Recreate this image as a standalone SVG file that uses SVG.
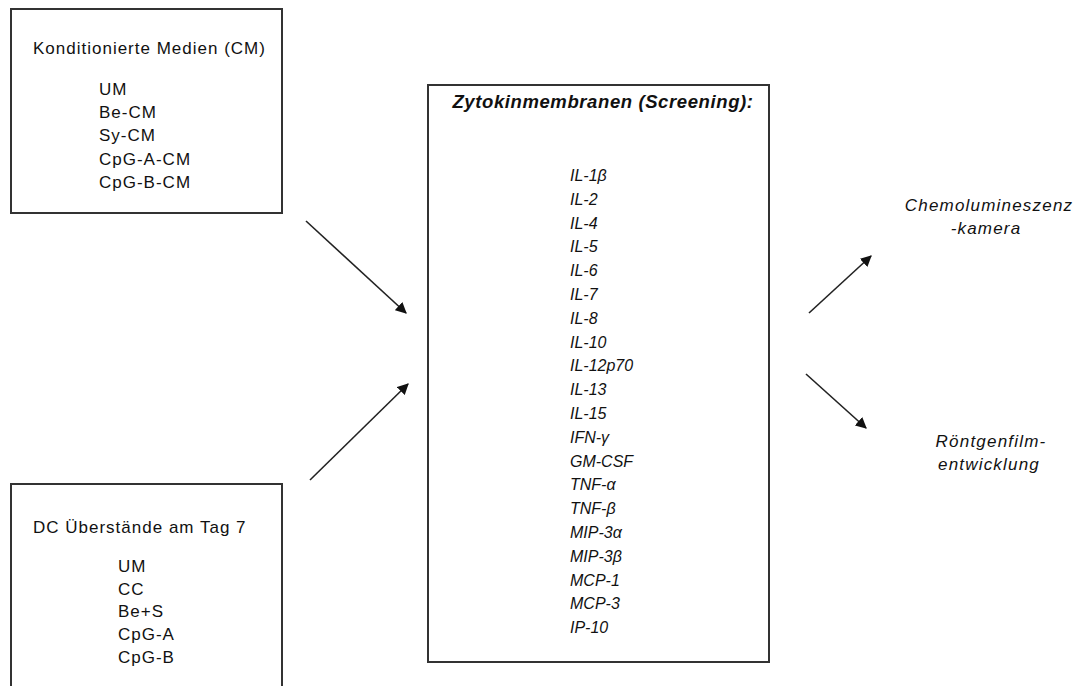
<svg xmlns="http://www.w3.org/2000/svg" width="1082" height="686" viewBox="0 0 1082 686">
<style>
.box{fill:#fff;stroke:#333;stroke-width:2}
.t{font-family:"Liberation Sans",Arial,sans-serif;font-size:16px;fill:#111}
.ls{font-size:17px;letter-spacing:1px}
.it{font-style:italic}
.rl{font-size:17px;letter-spacing:1.2px}
.title{font-weight:bold;font-style:italic;font-size:18.5px;letter-spacing:0.6px}
.conn{stroke:#222;stroke-width:1.6;fill:none;marker-end:url(#ah)}
</style>
<defs>
<marker id="ah" viewBox="0 0 10 10" refX="9" refY="5" markerWidth="7" markerHeight="7" markerUnits="strokeWidth" orient="auto">
<path d="M0,0 L10,5 L0,10 z" fill="#111"/>
</marker>
</defs>
<rect width="1082" height="686" fill="#fff"/>
<g id="node-cm">
<rect class="box" x="11" y="9" width="271" height="204"/>
<text class="t ls" x="33" y="54">Konditionierte Medien (CM)</text>
<text class="t ls" x="99" y="95">UM</text>
<text class="t ls" x="99" y="118">Be-CM</text>
<text class="t ls" x="99" y="141">Sy-CM</text>
<text class="t ls" x="99" y="165">CpG-A-CM</text>
<text class="t ls" x="99" y="188">CpG-B-CM</text>
</g>
<g id="node-dc">
<rect class="box" x="11" y="484" width="271" height="230"/>
<text class="t ls" x="33" y="533">DC Überstände am Tag 7</text>
<text class="t ls" x="118" y="572">UM</text>
<text class="t ls" x="118" y="595">CC</text>
<text class="t ls" x="118" y="617">Be+S</text>
<text class="t ls" x="118" y="640">CpG-A</text>
<text class="t ls" x="118" y="663">CpG-B</text>
</g>
<g id="node-screen">
<rect class="box" x="428" y="85" width="341" height="577"/>
<text class="t title" x="603" y="108" text-anchor="middle">Zytokinmembranen (Screening):</text>
<g class="t it">
<text x="570" y="181">IL-1β</text>
<text x="570" y="204.8">IL-2</text>
<text x="570" y="228.6">IL-4</text>
<text x="570" y="252.4">IL-5</text>
<text x="570" y="276.2">IL-6</text>
<text x="570" y="300">IL-7</text>
<text x="570" y="323.8">IL-8</text>
<text x="570" y="347.6">IL-10</text>
<text x="570" y="371.4">IL-12p70</text>
<text x="570" y="395.2">IL-13</text>
<text x="570" y="419">IL-15</text>
<text x="570" y="442.8">IFN-γ</text>
<text x="570" y="466.6">GM-CSF</text>
<text x="570" y="490.4">TNF-α</text>
<text x="570" y="514.2">TNF-β</text>
<text x="570" y="538">MIP-3α</text>
<text x="570" y="561.8">MIP-3β</text>
<text x="570" y="585.6">MCP-1</text>
<text x="570" y="609.4">MCP-3</text>
<text x="570" y="633.2">IP-10</text>
</g>
</g>
<g id="node-chemo">
<text class="t it rl" x="989" y="211" text-anchor="middle">Chemolumineszenz</text>
<text class="t it rl" x="986" y="234" text-anchor="middle">-kamera</text>
</g>
<g id="node-roentgen">
<text class="t it rl" x="991" y="447" text-anchor="middle">Röntgenfilm-</text>
<text class="t it rl" x="989" y="470" text-anchor="middle">entwicklung</text>
</g>
<g id="connectors">
<line class="conn" x1="306" y1="221" x2="406" y2="313"/>
<line class="conn" x1="310" y1="480" x2="408" y2="384"/>
<line class="conn" x1="809" y1="313" x2="871" y2="256"/>
<line class="conn" x1="806" y1="374" x2="866" y2="428"/>
</g>
</svg>
